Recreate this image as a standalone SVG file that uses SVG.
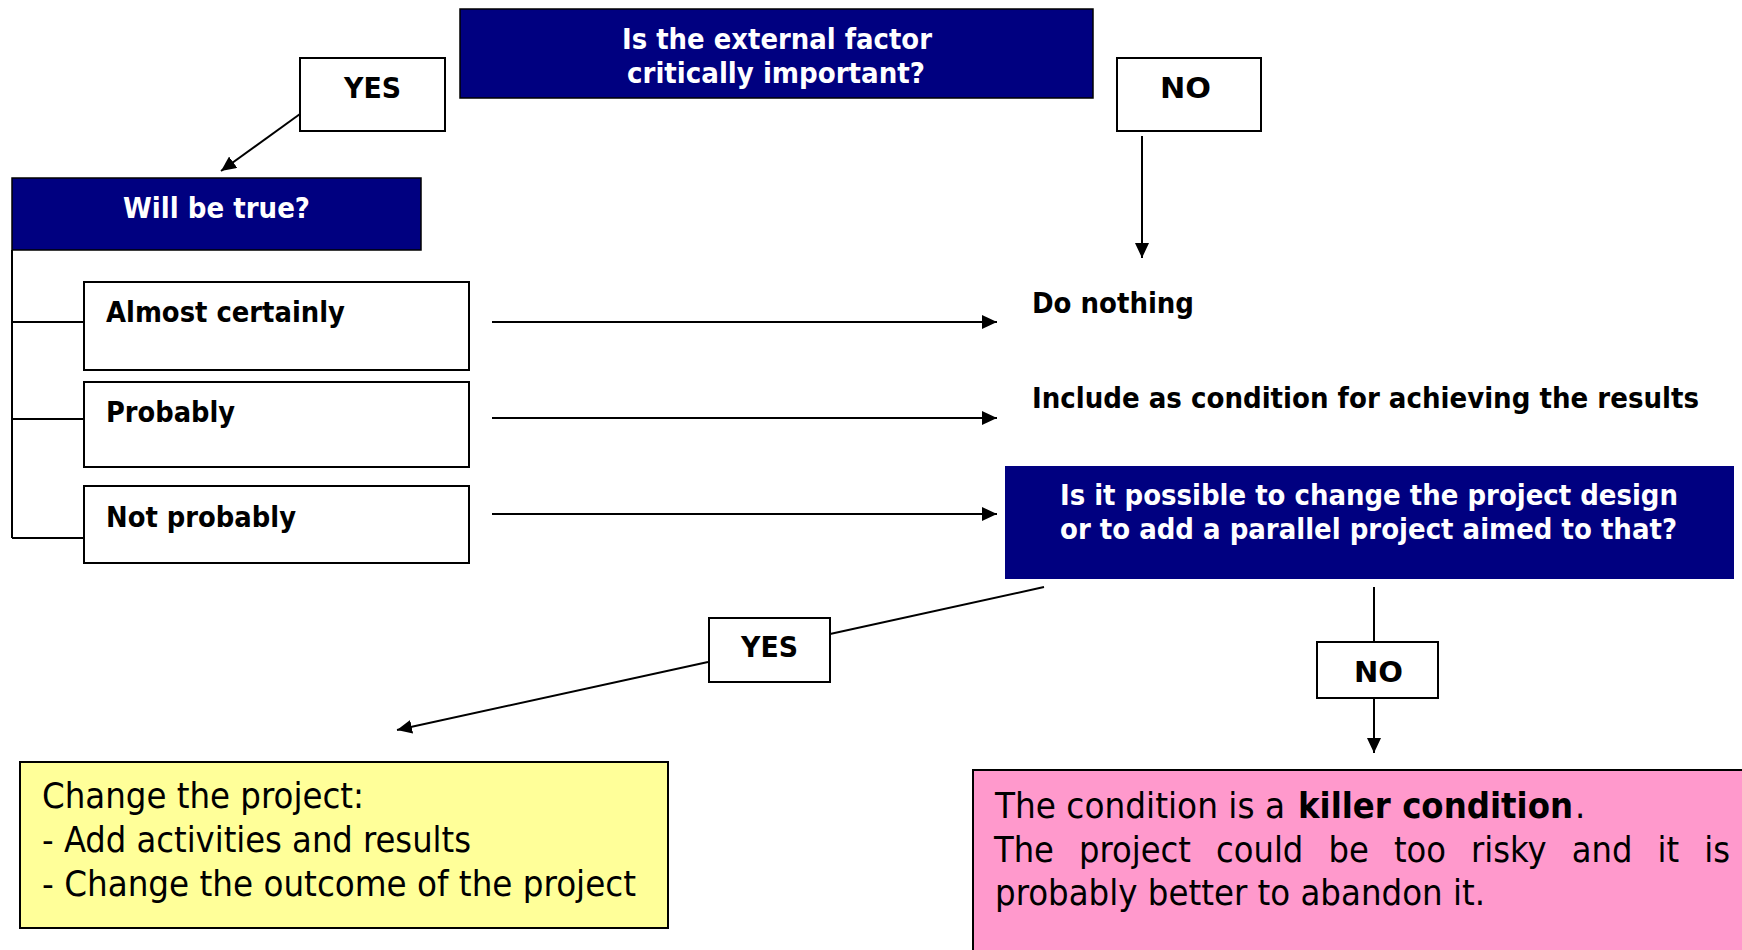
<svg xmlns="http://www.w3.org/2000/svg" width="1742" height="950" viewBox="0 0 1742 950">
<defs>
<style>
.b{font-family:'DejaVu Sans Condensed','DejaVu Sans',sans-serif;font-weight:bold;font-size:28px;fill:#000}
.w{fill:#fff}
.n{font-family:'DejaVu Sans Condensed','DejaVu Sans',sans-serif;font-size:36px;fill:#000}
.box{fill:#fff;stroke:#000;stroke-width:2}
.q{fill:#000080;stroke:#000;stroke-width:1.5}
.ln{fill:none;stroke:#000;stroke-width:2}
.ar{fill:none;stroke:#000;stroke-width:2;marker-end:url(#ah)}
</style>
<marker id="ah" markerUnits="userSpaceOnUse" markerWidth="16" markerHeight="14" refX="15" refY="7" orient="auto">
<path d="M0,0 L15,7 L0,14 Z" fill="#000"/>
</marker>
</defs>
<rect width="1742" height="950" fill="#fff"/>

<g id="connectors">
<line class="ar" x1="300" y1="114" x2="221" y2="171"/>
<line class="ar" x1="1142" y1="136" x2="1142" y2="258"/>
<polyline class="ln" points="12,250 12,538"/>
<line class="ln" x1="12" y1="322" x2="84" y2="322"/>
<line class="ln" x1="12" y1="419" x2="84" y2="419"/>
<line class="ln" x1="12" y1="538" x2="84" y2="538"/>
<line class="ar" x1="492" y1="322" x2="997" y2="322"/>
<line class="ar" x1="492" y1="418" x2="997" y2="418"/>
<line class="ar" x1="492" y1="514" x2="997" y2="514"/>
<line class="ln" x1="1044" y1="587" x2="830" y2="634"/>
<line class="ar" x1="708" y1="662" x2="397" y2="730"/>
<line class="ln" x1="1374" y1="587" x2="1374" y2="642"/>
<line class="ar" x1="1374" y1="698" x2="1374" y2="753"/>
</g>

<g id="q1">
<rect class="q" x="460" y="9" width="633" height="89"/>
<text class="b w" x="622" y="49" textLength="310" lengthAdjust="spacingAndGlyphs">Is the external factor</text>
<text class="b w" x="627" y="83" textLength="298" lengthAdjust="spacingAndGlyphs">critically important?</text>
</g>

<g id="yes1">
<rect class="box" x="300" y="58" width="145" height="73"/>
<text class="b" x="344" y="98" textLength="57" lengthAdjust="spacingAndGlyphs">YES</text>
</g>

<g id="no1">
<rect class="box" x="1117" y="58" width="144" height="73"/>
<text class="b" x="1160" y="98" textLength="51" lengthAdjust="spacingAndGlyphs">NO</text>
</g>

<g id="q2">
<rect class="q" x="12" y="178" width="409" height="72"/>
<text class="b w" x="123" y="218" textLength="187" lengthAdjust="spacingAndGlyphs">Will be true?</text>
</g>

<g id="almost">
<rect class="box" x="84" y="282" width="385" height="88"/>
<text class="b" x="106" y="322" textLength="239" lengthAdjust="spacingAndGlyphs">Almost certainly</text>
</g>

<g id="probably">
<rect class="box" x="84" y="382" width="385" height="85"/>
<text class="b" x="106" y="422" textLength="129" lengthAdjust="spacingAndGlyphs">Probably</text>
</g>

<g id="notprobably">
<rect class="box" x="84" y="486" width="385" height="77"/>
<text class="b" x="106" y="527" textLength="190" lengthAdjust="spacingAndGlyphs">Not probably</text>
</g>

<g id="donothing">
<text class="b" x="1032" y="313" textLength="162" lengthAdjust="spacingAndGlyphs">Do nothing</text>
</g>

<g id="include">
<text class="b" x="1032" y="408" textLength="667" lengthAdjust="spacingAndGlyphs">Include as condition for achieving the results</text>
</g>

<g id="q3">
<rect x="1005" y="466" width="729" height="113" fill="#000080"/>
<text class="b w" x="1060" y="505" textLength="618" lengthAdjust="spacingAndGlyphs">Is it possible to change the project design</text>
<text class="b w" x="1060" y="539" textLength="617" lengthAdjust="spacingAndGlyphs">or to add a parallel project aimed to that?</text>
</g>

<g id="yes2">
<rect class="box" x="709" y="618" width="121" height="64"/>
<text class="b" x="741" y="657" textLength="57" lengthAdjust="spacingAndGlyphs">YES</text>
</g>

<g id="no2">
<rect class="box" x="1317" y="642" width="121" height="56"/>
<text class="b" x="1354" y="682" textLength="49" lengthAdjust="spacingAndGlyphs">NO</text>
</g>

<g id="change">
<rect x="20" y="762" width="648" height="166" fill="#FFFF99" stroke="#000" stroke-width="2"/>
<text class="n" x="42" y="808" textLength="322" lengthAdjust="spacingAndGlyphs">Change the project:</text>
<text class="n" x="42" y="852" textLength="429" lengthAdjust="spacingAndGlyphs">- Add activities and results</text>
<text class="n" x="42" y="896" textLength="594" lengthAdjust="spacingAndGlyphs">- Change the outcome of the project</text>
</g>

<g id="killer">
<rect x="973" y="770" width="800" height="200" fill="#FF99CC" stroke="#000" stroke-width="2"/>
<text class="n" x="995" y="818" textLength="290" lengthAdjust="spacingAndGlyphs">The condition is a</text>
<text class="n" x="1298" y="818" font-weight="bold" textLength="275" lengthAdjust="spacingAndGlyphs">killer condition</text>
<text class="n" x="1575" y="818">.</text>
<text class="n" x="994" y="862" word-spacing="15" textLength="736" lengthAdjust="spacingAndGlyphs">The project could be too risky and it is</text>
<text class="n" x="995" y="905" textLength="490" lengthAdjust="spacingAndGlyphs">probably better to abandon it.</text>
</g>
</svg>
